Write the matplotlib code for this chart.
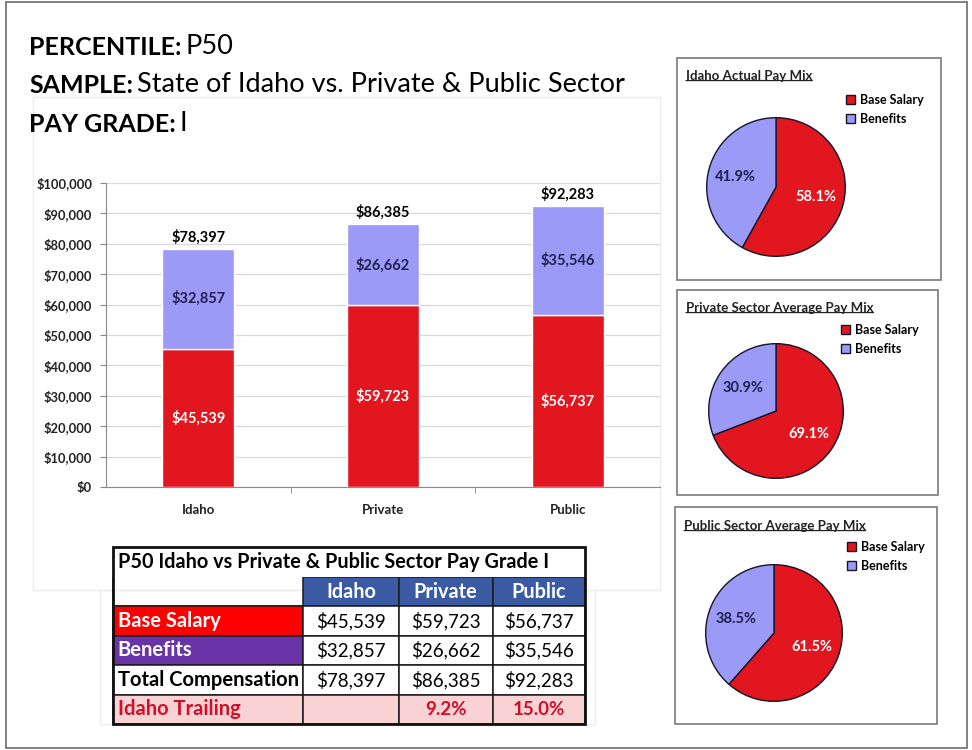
import matplotlib
matplotlib.use("Agg")
import matplotlib.pyplot as plt
from matplotlib.patches import Rectangle
from matplotlib.ticker import StrMethodFormatter, FixedLocator
import numpy as np

plt.rcParams['font.family'] = ['Lato', 'DejaVu Sans']

# ---------------- data ----------------
groups = ["Idaho", "Private", "Public"]
base_salary = [45539, 59723, 56737]
benefits = [32857, 26662, 35546]
totals = [78397, 86385, 92283]
idaho_trailing = [None, 9.2, 15.0]
pie_titles = ["Idaho Actual Pay Mix", "Private Sector Average Pay Mix",
              "Public Sector Average Pay Mix"]
pie_labels = ["Base Salary", "Benefits"]
table_title = "P50 Idaho vs Private & Public Sector Pay Grade I"
row_labels = ["Base Salary", "Benefits", "Total Compensation", "Idaho Trailing"]
header_lines = [("PERCENTILE:", "P50"),
                ("SAMPLE:", "State of Idaho vs. Private & Public Sector"),
                ("PAY GRADE:", "I")]

RED = "#E1161F"
PURPLE = "#9B9BF7"
W, H = 972, 750
fig = plt.figure(figsize=(W / 100, H / 100), dpi=100)


def px_axes(x0, y0, x1, y1, **kw):
    return fig.add_axes([x0 / W, 1 - y1 / H, (x1 - x0) / W, (y1 - y0) / H], **kw)


# background overlay (pixel coordinates)
bg = fig.add_axes([0, 0, 1, 1], zorder=-5)
bg.set_xlim(0, W)
bg.set_ylim(H, 0)
bg.axis("off")
bg.add_patch(Rectangle((6, 2), 961, 746, fill=False, ec="#6b6b6b", lw=1.2))
bg.add_patch(Rectangle((33, 97), 627, 493, fill=False, ec="#ececec", lw=1))
bg.add_patch(Rectangle((100, 590), 495, 134, fill=False, ec="#ececec", lw=1))

# header lines
for (bold_txt, norm_txt), yb in zip(header_lines, [55, 93, 132]):
    t1 = bg.text(29, yb, bold_txt, fontsize=18, fontweight="bold", va="baseline",
                 ha="left", color="black")
    bg.annotate(norm_txt, xy=(1, 0), xycoords=t1, xytext=(3, 0),
                textcoords="offset points", va="bottom", ha="left",
                fontsize=19.5, color="black")

# ---------------- stacked bar chart ----------------
ax = px_axes(106, 183, 660, 487)
x = np.arange(len(groups))
b1 = ax.bar(x, base_salary, width=0.39, color=RED, edgecolor="white", linewidth=1, zorder=3)
b2 = ax.bar(x, benefits, width=0.39, bottom=base_salary, color=PURPLE,
            edgecolor="white", linewidth=1, zorder=3)
ax.bar_label(b1, fmt="${:,.0f}", label_type="center", color="white",
             fontsize=10.5, fontweight="bold")
ax.bar_label(b2, fmt="${:,.0f}", label_type="center", color="#1E2050",
             fontsize=10.5, fontweight="bold")
ax.bar_label(b2, labels=[f"${t:,.0f}" for t in totals], padding=3, color="black",
             fontsize=10.5, fontweight="bold")
ax.set_xlim(-0.5, 2.5)
ax.set_ylim(0, 100000)
ax.yaxis.set_major_locator(FixedLocator(np.arange(0, 100001, 10000)))
ax.yaxis.set_major_formatter(StrMethodFormatter("${x:,.0f}"))
ax.grid(axis="y", color="#d9d9d9", lw=0.9, zorder=0)
ax.set_xticks(x)
ax.set_xticklabels(groups, fontsize=9.5, fontweight="bold", color="#222")
ax.set_xticks([0.5, 1.5], minor=True)
ax.tick_params(axis="x", which="major", length=0, pad=12)
ax.tick_params(axis="x", which="minor", length=4, color="#888")
ax.tick_params(axis="y", length=4, color="#888", pad=6, labelsize=9.3, labelcolor="#222")
for lab in ax.get_yticklabels():
    lab.set_fontweight("bold")
for s in ["top", "right"]:
    ax.spines[s].set_visible(False)
for s in ["left", "bottom"]:
    ax.spines[s].set_color("#8a8a8a")
ax.set_facecolor("none")

# ---------------- table ----------------
tax = px_axes(113, 547, 585, 724)
tax.set_xlim(0, 1)
tax.set_ylim(0, 1)
tax.axis("off")
title_h = 30 / 177
tax.add_patch(Rectangle((0, 1 - title_h), 1, title_h, fc="white", ec="none"))
tax.text(5 / 472, 1 - title_h / 2, table_title, fontsize=14.3, fontweight="bold",
         va="center", ha="left", color="black")

fmt = lambda v: f"${v:,.0f}"
cell_text = [[""] + groups,
             [row_labels[0]] + [fmt(v) for v in base_salary],
             [row_labels[1]] + [fmt(v) for v in benefits],
             [row_labels[2]] + [fmt(v) for v in totals],
             [row_labels[3]] + ["" if v is None else f"{v:.1f}%" for v in idaho_trailing]]
col_w = np.array([190, 95, 94, 92], dtype=float)
tbl = tax.table(cellText=cell_text, colWidths=list(col_w / col_w.sum()),
                bbox=[0, 0, 1, 1 - title_h], cellLoc="center")
tbl.auto_set_font_size(False)
tbl.set_fontsize(13.5)
label_fc = ["#FF0000", "#6A34A8", "white", "#F9D2D3"]
label_tc = ["white", "white", "black", "#D0102A"]
for (r, c), cell in tbl.get_celld().items():
    cell.set_edgecolor("#1a1a1a")
    cell.set_linewidth(1.1)
    txt = cell.get_text()
    if r == 0:
        if c == 0:
            cell.set_facecolor("white")
            cell.visible_edges = "LB"
        else:
            cell.set_facecolor("#3A5BA3")
            txt.set_color("white")
            txt.set_fontweight("bold")
            txt.set_fontsize(14.3)
    else:
        if c == 0:
            cell.set_facecolor(label_fc[r - 1])
            txt.set_color(label_tc[r - 1])
            txt.set_fontweight("bold")
            txt.set_fontsize(14.5)
            cell._loc = "left"
            cell.PAD = 0.025
            txt.set_horizontalalignment("left")
        else:
            if r == 4:
                cell.set_facecolor(label_fc[3])
                txt.set_color(label_tc[3])
                txt.set_fontweight("bold")
            else:
                cell.set_facecolor("white")
                txt.set_color("black")
tax.add_patch(Rectangle((0, 0), 1, 1, fill=False, ec="#111", lw=2, zorder=10,
                        clip_on=False))

# ---------------- pie charts ----------------
boxes = [(677, 58, 941, 280), (677, 290, 938, 495), (675, 507, 937, 724)]
centers = [(776, 187, 70), (776, 411, 68), (774, 633, 69)]
title_y = [76, 308, 526]
legend_pos = [(846, 94), (841, 324), (847, 541)]
for i in range(3):
    x0, y0, x1, y1 = boxes[i]
    bg.add_patch(Rectangle((x0, y0), x1 - x0, y1 - y0, fill=False, ec="#7a7a7a", lw=1.2))
    cx, cy, r = centers[i]
    pax = px_axes(cx - r, cy - r, cx + r, cy + r)
    wedges, texts, autotexts = pax.pie(
        [base_salary[i], benefits[i]], colors=[RED, PURPLE], startangle=90,
        counterclock=False, autopct="%1.1f%%", pctdistance=0.6,
        wedgeprops=dict(edgecolor="#141428", linewidth=1),
        textprops=dict(fontsize=10.5, fontweight="bold"))
    autotexts[0].set_color("white")
    autotexts[1].set_color("#1E2050")
    pax.set_xlim(-1.01, 1.01)
    pax.set_ylim(-1.01, 1.01)
    t = bg.text(x0 + 9, title_y[i], pie_titles[i], fontsize=9.5, fontweight="bold",
                va="center", ha="left", color="#222")
    bg.annotate("", xy=(0, 0.12), xycoords=t, xytext=(1, 0.12), textcoords=t,
                arrowprops=dict(arrowstyle="-", lw=0.9, color="#222",
                                shrinkA=0, shrinkB=0))
    lx, ly = legend_pos[i]
    pax.legend(wedges, pie_labels, loc="upper left",
               bbox_to_anchor=(lx / W, 1 - ly / H), bbox_transform=fig.transFigure,
               frameon=False, handlelength=0.75, handleheight=0.75,
               handletextpad=0.35, labelspacing=0.55, borderpad=0, borderaxespad=0,
               prop=dict(weight="bold", size=9))

fig.savefig("out.png", dpi=100)
